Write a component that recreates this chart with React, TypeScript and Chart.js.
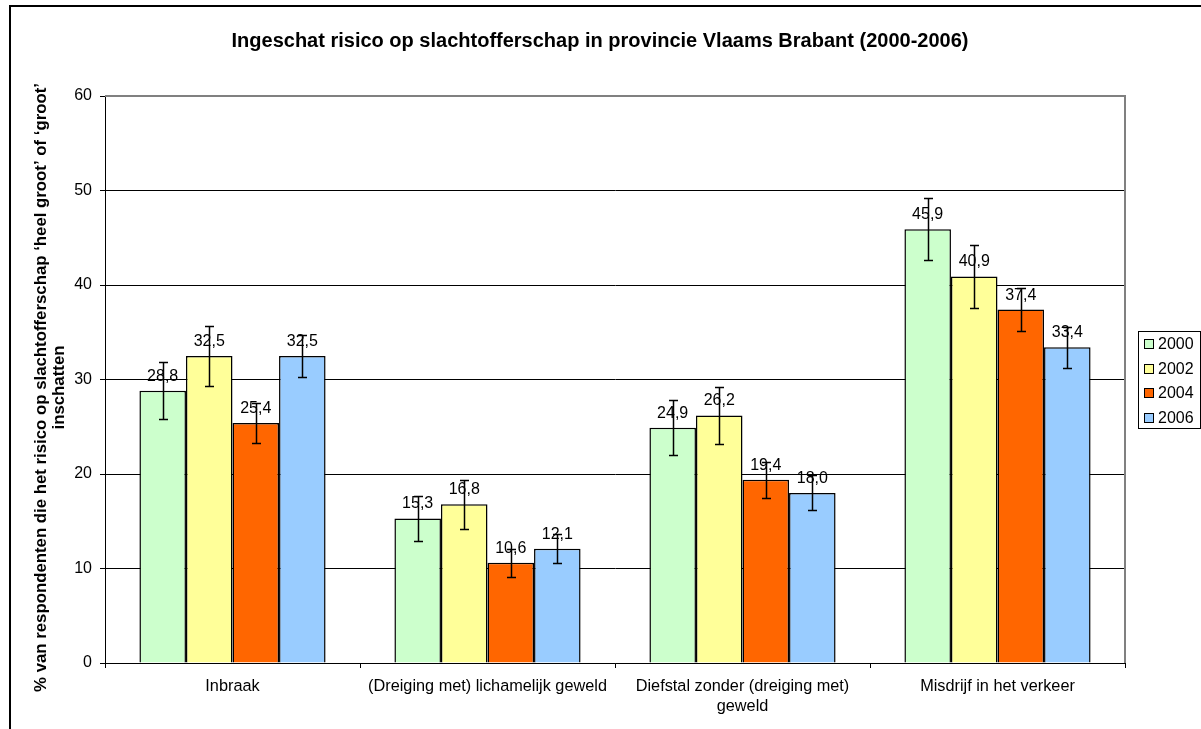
import React, { useEffect, useRef } from "react";
import { Chart, registerables } from "chart.js";

Chart.register(...registerables);

const categories: (string | string[])[] = [
  "Inbraak",
  "(Dreiging met) lichamelijk geweld",
  ["Diefstal zonder (dreiging met)", "geweld"],
  "Misdrijf in het verkeer",
];

const seriesNames = ["2000", "2002", "2004", "2006"];
const seriesColors = ["#CCFFCC", "#FFFF99", "#FF6600", "#99CCFF"];

const values2000 = [28.8, 15.3, 24.9, 45.9];
const values2002 = [32.5, 16.8, 26.2, 40.9];
const values2004 = [25.4, 10.6, 19.4, 37.4];
const values2006 = [32.5, 12.1, 18.0, 33.4];

const errors2000 = [3.0, 2.4, 2.9, 3.3];
const errors2002 = [3.2, 2.6, 3.0, 3.3];
const errors2004 = [2.1, 1.5, 1.9, 2.3];
const errors2006 = [2.2, 1.5, 1.85, 2.2];

const yTicks = [0, 10, 20, 30, 40, 50, 60];

const chartTitle =
  "Ingeschat risico op slachtofferschap in provincie Vlaams Brabant (2000-2006)";
const yTitleLines = [
  "% van respondenten die het risico op slachtofferschap \u2018heel groot\u2019 of \u2018groot\u2019",
  "inschatten",
];

const allValues = [values2000, values2002, values2004, values2006];
const allErrors = [errors2000, errors2002, errors2004, errors2006];

const FONT = '"Liberation Sans", Arial, Helvetica, sans-serif';

const decorPlugin = {
  id: "decor",
  afterDatasetsDraw(chart: any) {
    const { ctx, chartArea, scales } = chart;
    const y = scales.y;
    ctx.save();
    // plot area border (top & right, grey)
    ctx.strokeStyle = "#808080";
    ctx.lineWidth = 2;
    ctx.beginPath();
    ctx.moveTo(chartArea.left, chartArea.top);
    ctx.lineTo(chartArea.right, chartArea.top);
    ctx.lineTo(chartArea.right, chartArea.bottom);
    ctx.stroke();

    // data labels
    ctx.fillStyle = "#000";
    ctx.font = `16px ${FONT}`;
    ctx.textAlign = "center";
    ctx.textBaseline = "alphabetic";
    chart.data.datasets.forEach((ds: any, di: number) => {
      const meta = chart.getDatasetMeta(di);
      meta.data.forEach((el: any, i: number) => {
        const v = ds.data[i] as number;
        ctx.fillText(v.toFixed(1).replace(".", ","), el.x, el.y - 10);
      });
    });

    // error bars
    ctx.strokeStyle = "#000";
    ctx.lineWidth = 1.5;
    chart.data.datasets.forEach((ds: any, di: number) => {
      const meta = chart.getDatasetMeta(di);
      const errs = allErrors[di];
      meta.data.forEach((el: any, i: number) => {
        const v = ds.data[i] as number;
        const top = Math.round(y.getPixelForValue(v + errs[i])) + 0.5;
        const bot = Math.round(y.getPixelForValue(v - errs[i])) + 0.5;
        const x = Math.round(el.x) + 0.5;
        ctx.beginPath();
        ctx.moveTo(x, top);
        ctx.lineTo(x, bot);
        ctx.moveTo(x - 4.5, top);
        ctx.lineTo(x + 4.5, top);
        ctx.moveTo(x - 4.5, bot);
        ctx.lineTo(x + 4.5, bot);
        ctx.stroke();
      });
    });
    ctx.restore();
  },
  afterDraw(chart: any) {
    const { ctx, chartArea } = chart;
    ctx.save();
    // title
    ctx.fillStyle = "#000";
    ctx.font = `bold 20px ${FONT}`;
    ctx.textAlign = "center";
    ctx.textBaseline = "middle";
    ctx.fillText(chartTitle, 600, 41);

    // y axis title
    ctx.font = `bold 16.8px ${FONT}`;
    const cy = (chartArea.top + chartArea.bottom) / 2 + 8;
    yTitleLines.forEach((line, i) => {
      ctx.save();
      ctx.translate(41 + i * 18, cy);
      ctx.rotate(-Math.PI / 2);
      ctx.fillText(line, 0, 0);
      ctx.restore();
    });

    // legend
    const lx = 1138.5;
    const ly = 331.5;
    const lw = 62;
    const lh = 97;
    ctx.fillStyle = "#fff";
    ctx.fillRect(lx, ly, lw, lh);
    ctx.strokeStyle = "#000";
    ctx.lineWidth = 1;
    ctx.strokeRect(lx, ly, lw, lh);
    chart.data.datasets.forEach((ds: any, di: number) => {
      const yc = 344 + di * 24.5;
      ctx.fillStyle = ds.backgroundColor;
      ctx.fillRect(1144.5, Math.round(yc - 5) + 0.5, 9, 9);
      ctx.strokeStyle = "#000";
      ctx.strokeRect(1144.5, Math.round(yc - 5) + 0.5, 9, 9);
      ctx.fillStyle = "#000";
      ctx.font = `16px ${FONT}`;
      ctx.textAlign = "left";
      ctx.textBaseline = "middle";
      ctx.fillText(ds.label, 1158, yc + 1);
    });
    ctx.restore();
  },
};

export default function App() {
  const ref = useRef<HTMLCanvasElement | null>(null);

  useEffect(() => {
    if (!ref.current) return;
    Chart.defaults.font.family = FONT;
    const chart = new Chart(ref.current, {
      type: "bar",
      data: {
        labels: categories as any,
        datasets: seriesNames.map((name, i) => ({
          label: name,
          data: allValues[i],
          backgroundColor: seriesColors[i],
          borderColor: "#000",
          borderWidth: 1.5,
          categoryPercentage: 0.73,
          barPercentage: 1,
        })),
      },
      options: {
        responsive: false,
        animation: false,
        devicePixelRatio: 1,
        layout: { padding: { top: 96, right: 76, bottom: 0, left: 0 } },
        plugins: {
          legend: { display: false },
          title: { display: false },
          tooltip: { enabled: false },
        },
        scales: {
          x: {
            offset: true,
            grid: {
              offset: true,
              drawOnChartArea: false,
              drawTicks: true,
              tickLength: 5,
              color: "#000",
            },
            border: { color: "#000", width: 1 },
            ticks: {
              color: "#000",
              font: { size: 16.3, family: FONT },
              padding: 9,
              maxRotation: 0,
              autoSkip: false,
            },
            afterFit: (s: any) => {
              s.height = 66;
            },
          },
          y: {
            min: 0,
            max: 60,
            afterBuildTicks: (s: any) => {
              s.ticks = yTicks.map((v) => ({ value: v }));
            },
            grid: {
              color: "#000",
              lineWidth: 1,
              tickLength: 5,
            },
            border: { color: "#000", width: 1 },
            ticks: {
              color: "#000",
              font: { size: 16, family: FONT },
              padding: 8,
            },
            afterFit: (s: any) => {
              s.width = 105;
            },
          },
        },
      },
      plugins: [decorPlugin],
    });
    return () => chart.destroy();
  }, []);

  return (
    <div
      style={{
        position: "absolute",
        left: 0,
        top: 0,
        width: 1201,
        height: 729,
        overflow: "hidden",
        background: "#fff",
      }}
    >
      <div
        style={{
          position: "absolute",
          left: 9,
          top: 5,
          width: 1400,
          height: 1000,
          border: "2px solid #000",
          boxSizing: "border-box",
        }}
      />
      <canvas
        ref={ref}
        width={1201}
        height={729}
        style={{ position: "absolute", left: 0, top: 0, width: 1201, height: 729 }}
      />
    </div>
  );
}
